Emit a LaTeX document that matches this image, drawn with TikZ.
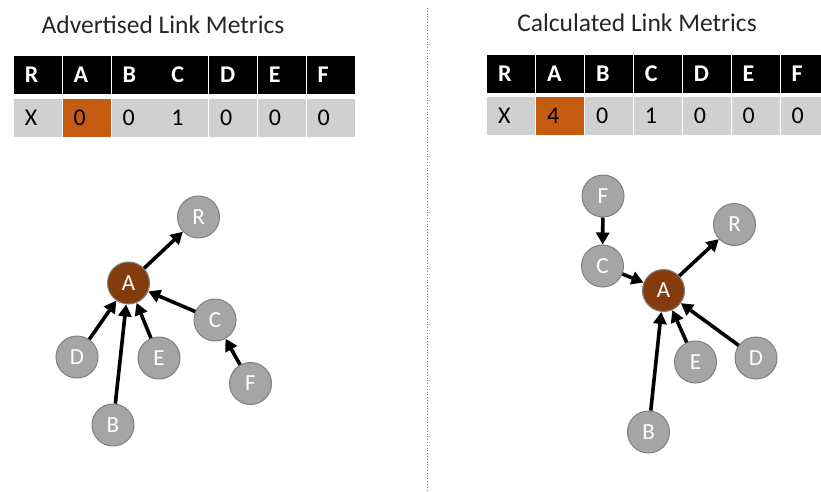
\documentclass[tikz,border=0pt]{standalone}
\usepackage{fontspec}
\setmainfont{Carlito}
\usetikzlibrary{arrows.meta}
\definecolor{cellgray}{HTML}{D0D0D0}
\definecolor{cellorange}{HTML}{C55A11}
\definecolor{nodegray}{HTML}{A5A5A5}
\definecolor{nodeborder}{HTML}{7F7F7F}
\definecolor{nodebrown}{HTML}{843C0C}
\tikzset{
  hdr/.style={rectangle, fill=black, text=white, font=\fontsize{24}{24}\selectfont\bfseries,
    minimum height=38pt, text width=26pt, inner xsep=11pt, inner ysep=0pt, align=left, anchor=west},
  dat/.style={rectangle, fill=cellgray, text=black, font=\fontsize{24}{24}\selectfont,
    minimum height=38pt, text width=26pt, inner xsep=11pt, inner ysep=0pt, align=left, anchor=west},
  hot/.style={dat, fill=cellorange},
  title/.style={font=\fontsize{25.5}{25.5}\selectfont, text=black!85},
  gnode/.style={circle, fill=nodegray, draw=nodeborder, line width=1pt, minimum size=42pt,
    inner sep=0pt, text=white, font=\fontsize{23}{23}\selectfont},
  anode/.style={gnode, fill=nodebrown},
  arr/.style={line width=3.6pt, -{Triangle[length=12pt,width=13pt]}}
}
\begin{document}
\begin{tikzpicture}[x=1pt,y=-1pt]
\useasboundingbox (0,0) rectangle (821,491);
\clip (0,0) rectangle (821,491);
% divider
\coordinate (dtop) at (427,8);
\coordinate (dbot) at (427,491);
\draw[nodeborder, dotted, line width=0.8pt] (dtop) -- (dbot);
% titles
\node[title] (t1) at (163,25) {Advertised Link Metrics};
\node[title] (t2) at (637,23) {Calculated Link Metrics};
% left table
\foreach \h [count=\i from 0] in {R,A,B,C,D,E,F} {
  \node[hdr] (lh\i) at (13.7+\i*48.8,75) {\h};
}
\foreach \d [count=\i from 0] in {X,0,0,1,0,0,0} {
  \ifnum\i=1
    \node[hot] (ld\i) at (13.7+\i*48.8,117.5) {\d};
  \else
    \node[dat] (ld\i) at (13.7+\i*48.8,117.5) {\d};
  \fi
}
% right table
\foreach \h [count=\i from 0] in {R,A,B,C,D,E,F} {
  \node[hdr] (rh\i) at (487+\i*48.9,73.5) {\h};
}
\foreach \d [count=\i from 0] in {X,4,0,1,0,0,0} {
  \ifnum\i=1
    \node[hot] (rd\i) at (487+\i*48.9,115.5) {\d};
  \else
    \node[dat] (rd\i) at (487+\i*48.9,115.5) {\d};
  \fi
}
% left graph
\node[gnode] (LR) at (198.5,217) {R};
\node[anode] (LA) at (128.5,283) {A};
\node[gnode] (LC) at (215,320) {C};
\node[gnode] (LD) at (77,357) {D};
\node[gnode] (LE) at (159,358) {E};
\node[gnode] (LF) at (250.5,383.5) {F};
\node[gnode] (LB) at (113,425) {B};
\draw[arr] (LA) -- (LR);
\draw[arr] (LC) -- (LA);
\draw[arr] (LD) -- (LA);
\draw[arr] (LB) -- (LA);
\draw[arr] (LE) -- (LA);
\draw[arr] (LF) -- (LC);
% right graph
\node[gnode] (RF) at (603,196) {F};
\node[gnode] (RC) at (602.5,266) {C};
\node[anode] (RA) at (663.5,290.5) {A};
\node[gnode] (RR) at (734.5,224.5) {R};
\node[gnode] (RE) at (695.5,362) {E};
\node[gnode] (RD) at (756,358) {D};
\node[gnode] (RB) at (648.5,432) {B};
\draw[arr] (RF) -- (RC);
\draw[arr] (RC) -- (RA);
\draw[arr] (RA) -- (RR);
\draw[arr] (RB) -- (RA);
\draw[arr] (RE) -- (RA);
\draw[arr] (RD) -- (RA);
\end{tikzpicture}
\end{document}
